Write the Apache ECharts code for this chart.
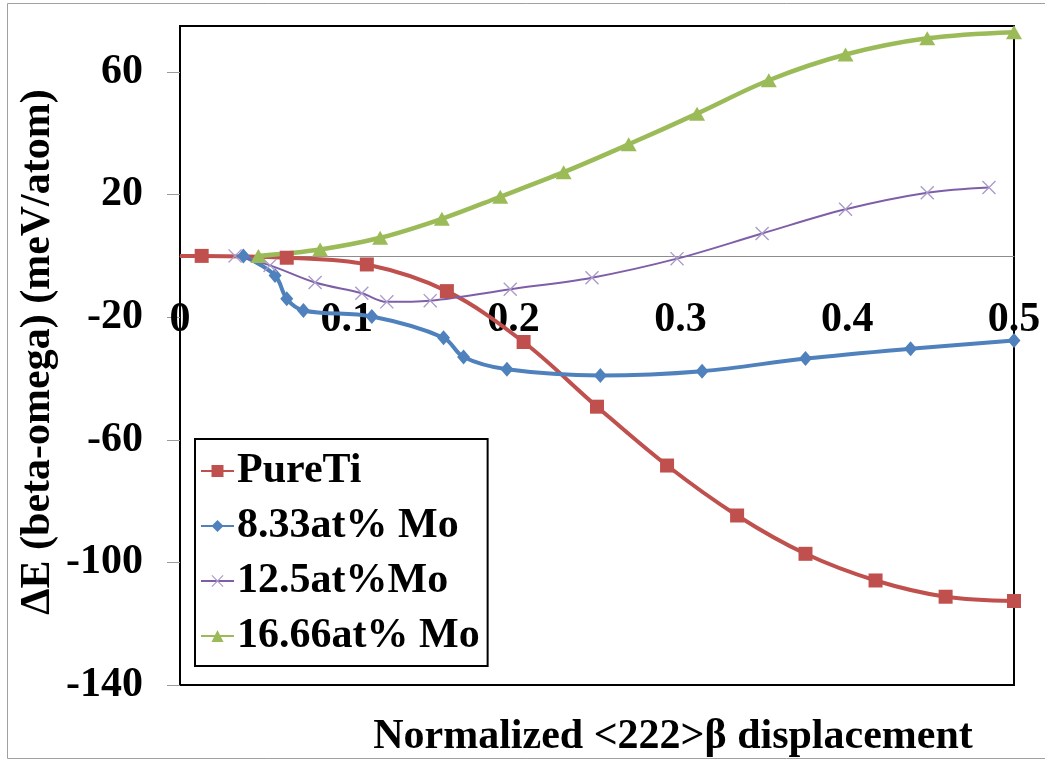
<!DOCTYPE html>
<html>
<head>
<meta charset="utf-8">
<script src="https://cdn.jsdelivr.net/npm/echarts@6/dist/echarts.min.js"></script>
<style>
  html, body { margin: 0; padding: 0; background: #fff; }
  #chart { width: 1045px; height: 761px; }
</style>
</head>
<body>
<div id="chart"></div>
<script>
// Normalized <222> displacement (x) and energy difference in meV/atom (y)
const pureTiX = [0, 0.013, 0.064, 0.112, 0.160, 0.206, 0.250, 0.292, 0.334, 0.375, 0.417, 0.459, 0.5];
const pureTiY = [0, 0, -0.6, -2.8, -11.5, -28.1, -49.2, -68.4, -84.7, -97.2, -105.9, -111.2, -112.6];

const mo833X = [0.038, 0.057, 0.064, 0.074, 0.115, 0.158, 0.170, 0.196, 0.252, 0.313, 0.375, 0.438, 0.5];
const mo833Y = [0, -6.4, -14.0, -17.8, -19.8, -26.7, -33.0, -37.0, -39.0, -37.6, -33.5, -30.3, -27.6];

const mo125X = [0.033, 0.054, 0.081, 0.109, 0.124, 0.150, 0.198, 0.247, 0.298, 0.349, 0.399, 0.448, 0.485];
const mo125Y = [0, -3.1, -8.7, -12.2, -15.0, -14.6, -10.9, -7.1, -0.9, 7.3, 15.2, 20.6, 22.3];

const mo1666X = [0.047, 0.084, 0.120, 0.157, 0.192, 0.230, 0.269, 0.310, 0.353, 0.399, 0.448, 0.5];
const mo1666Y = [0, 2.1, 5.9, 12.1, 19.3, 27.3, 36.4, 46.4, 57.3, 65.7, 71.0, 73.0];

const seriesNames = ['PureTi', '8.33at% Mo', '12.5at%Mo', '16.66at% Mo'];
const yTicks = [-140, -100, -60, -20, 20, 60];
const xTicks = [0, 0.1, 0.2, 0.3, 0.4, 0.5];

const FONT = "'Liberation Serif', 'Times New Roman', serif";
const crossPath = 'path://M0,7 L7,0 L50,43 L93,0 L100,7 L57,50 L100,93 L93,100 L50,57 L7,100 L0,93 L43,50 Z';

// plot frame and value range of the energy axis
const GRID = { left: 180, top: 26, right: 31, bottom: 76 };
const Y_MIN = -140, Y_MAX = 75;
const plotHeight = 761 - GRID.top - GRID.bottom;
// lift the displacement axis from the bottom edge to the zero-energy line
const xAxisOffset = -plotHeight * (0 - Y_MIN) / (Y_MAX - Y_MIN);

function pairs(xs, ys) {
  return xs.map((x, i) => [x, ys[i]]);
}

// the pure Ti curve starts on the axis without a marker
const pureTiData = pairs(pureTiX, pureTiY).map((p, i) =>
  i === 0 ? { value: p, symbol: 'none' } : p);

const chart = echarts.init(document.getElementById('chart'), null, { renderer: 'canvas' });

chart.setOption({
  animation: false,
  backgroundColor: '#fff',
  grid: Object.assign({
    show: true, borderColor: '#000', borderWidth: 2, backgroundColor: 'transparent'
  }, GRID),
  xAxis: {
    type: 'value',
    position: 'bottom',
    offset: xAxisOffset,
    min: 0, max: 0.5, interval: 0.1,
    axisLine: { show: true, onZero: false, lineStyle: { color: '#8c8c8c', width: 1 } },
    axisTick: { show: false },
    splitLine: { show: false },
    axisLabel: {
      margin: 43,
      color: '#000',
      fontFamily: FONT, fontWeight: 'bold', fontSize: 42,
      showMinLabel: true, showMaxLabel: true,
      customValues: xTicks,
      formatter: v => String(v)
    }
  },
  yAxis: {
    type: 'value',
    min: Y_MIN, max: Y_MAX, interval: 40,
    axisLine: { show: true, onZero: false, lineStyle: { color: '#000', width: 2 } },
    axisTick: { show: true, length: 13, lineStyle: { color: '#9a9a9a', width: 1 }, customValues: yTicks },
    splitLine: { show: false },
    axisLabel: {
      margin: 37,
      color: '#000',
      fontFamily: FONT, fontWeight: 'bold', fontSize: 42,
      customValues: yTicks
    }
  },
  legend: {
    orient: 'vertical',
    left: 195, top: 439,
    padding: [10, 8, 8, 5],
    itemGap: 11,
    itemWidth: 33, itemHeight: 15,
    backgroundColor: '#fff',
    borderColor: '#000', borderWidth: 2,
    data: seriesNames,
    textStyle: {
      fontFamily: FONT, fontWeight: 'bold', fontSize: 42, lineHeight: 44, color: '#000',
      padding: [0, 0, 0, -2]
    }
  },
  graphic: [
    {
      type: 'rect', silent: true, z: -10,
      shape: { x: 7.5, y: 3.5, width: 1060, height: 755 },
      style: { fill: 'none', stroke: '#a0a0a0', lineWidth: 1 }
    },
    {
      type: 'text', silent: true,
      x: 38, y: 352, rotation: Math.PI / 2,
      style: {
        text: 'ΔE (beta-omega) (meV/atom)',
        font: "bold 42px 'Liberation Serif', 'Times New Roman', serif",
        fill: '#000', align: 'center', verticalAlign: 'middle'
      }
    },
    {
      type: 'text', silent: true,
      x: 673, y: 737,
      style: {
        text: 'Normalized <222>β displacement',
        font: "bold 42px 'Liberation Serif', 'Times New Roman', serif",
        fill: '#000', align: 'center', verticalAlign: 'middle'
      }
    }
  ],
  series: [
    {
      name: seriesNames[0], type: 'line', smooth: 0.35,
      data: pureTiData,
      symbol: 'rect', symbolSize: 14,
      lineStyle: { color: '#C0504D', width: 4 },
      itemStyle: { color: '#C0504D' }
    },
    {
      name: seriesNames[1], type: 'line', smooth: 0.35,
      data: pairs(mo833X, mo833Y),
      symbol: 'diamond', symbolSize: [13, 15],
      lineStyle: { color: '#4F81BD', width: 4 },
      itemStyle: { color: '#4F81BD' }
    },
    {
      name: seriesNames[2], type: 'line', smooth: 0.35,
      data: pairs(mo125X, mo125Y),
      symbol: crossPath, symbolSize: 14, symbolKeepAspect: true,
      lineStyle: { color: '#7E5EA6', width: 2 },
      itemStyle: { color: '#A99BCB' }
    },
    {
      name: seriesNames[3], type: 'line', smooth: 0.35,
      data: pairs(mo1666X, mo1666Y),
      symbol: 'triangle', symbolSize: [16, 14],
      lineStyle: { color: '#9BBB59', width: 4.5 },
      itemStyle: { color: '#9BBB59' }
    }
  ]
});
</script>
</body>
</html>
